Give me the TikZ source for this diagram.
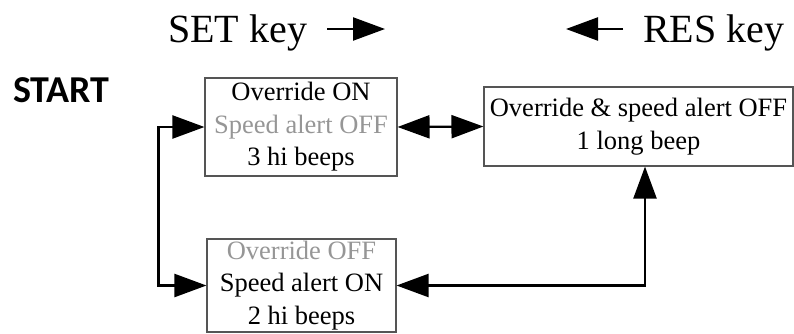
\documentclass[tikz,border=0pt]{standalone}
\usepackage{fontspec}
\setmainfont{Liberation Serif}
\newfontfamily\startfont{Carlito}
\usetikzlibrary{arrows.meta}
\definecolor{boxline}{RGB}{85,85,85}
\definecolor{dimtext}{RGB}{150,150,150}
\tikzset{
  statebox/.style={draw=boxline, line width=1.1pt, inner sep=0pt, align=center,
    font=\fontsize{26.5}{32.5}\selectfont},
  conn/.style={line width=2.3pt, {Triangle[length=32pt,width=23pt]}-{Triangle[length=32pt,width=23pt]}},
  keyarrow/.style={line width=2.3pt, -{Triangle[length=32pt,width=23pt]}},
  keytext/.style={font=\fontsize{40}{48}\selectfont, inner sep=0pt, anchor=base west},
}
\begin{document}
\begin{tikzpicture}[x=1pt,y=-1pt]
\useasboundingbox (0,0) rectangle (794,333);
% titles
\node[keytext] (setkey) at (168,42) {SET key};
\node[keytext] (reskey) at (643,42) {RES key};
\coordinate (sa) at (327,29);
\coordinate (sb) at (385,29);
\coordinate (ra) at (623,29);
\coordinate (rb) at (566,29);
\draw[keyarrow] (sa) -- (sb);
\draw[keyarrow] (ra) -- (rb);
\node[font=\startfont\bfseries\fontsize{38}{44}\selectfont, inner sep=0pt, anchor=base west] (start) at (13,102) {START};
% boxes
\node[statebox, minimum width=192pt, minimum height=98pt] (b1) at (301,127)
  {Override ON\\\textcolor{dimtext}{Speed alert OFF}\\3 hi beeps};
\node[statebox, minimum width=189pt, minimum height=93pt] (b2) at (301.5,285.5)
  {\textcolor{dimtext}{Override OFF}\\Speed alert ON\\2 hi beeps};
\node[statebox, minimum width=309pt, minimum height=79pt] (b3) at (638.5,126.5)
  {Override \& speed alert OFF\\1 long beep};
% connectors
\draw[conn] (b1.west) -- ++(-46,0) |- (b2.west);
\draw[conn] (b1.east) -- (b3.west);
\draw[conn] (b2.east) -| ([xshift=6.5pt]b3.south);
\end{tikzpicture}
\end{document}
